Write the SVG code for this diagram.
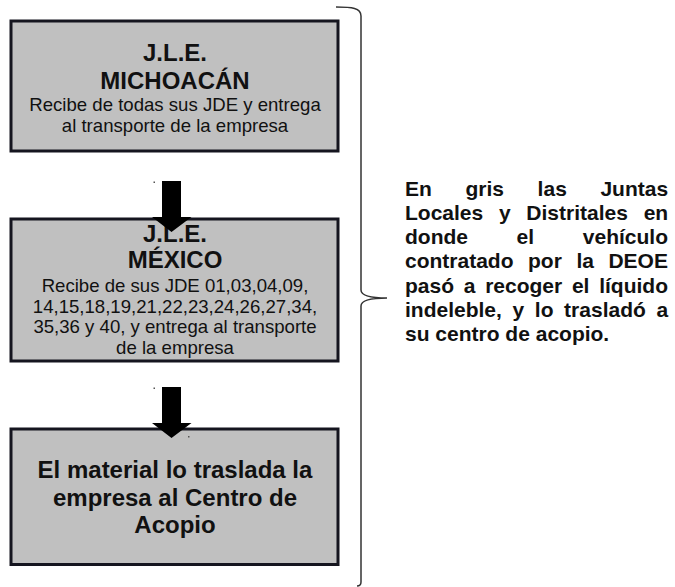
<svg xmlns="http://www.w3.org/2000/svg" width="675" height="587" viewBox="0 0 675 587">
<style>
.box{fill:#c0c0c0;stroke:#15151f;stroke-width:3}
.t{font-family:"Liberation Sans",Arial,sans-serif;fill:#111;text-anchor:middle}
.b{font-weight:bold;font-size:24px}
.r{font-size:18.6px}
.note{font-family:"Liberation Sans",Arial,sans-serif;font-weight:bold;font-size:21px;fill:#111}
.arrow{fill:#000}
.dot{fill:#555}
</style>
<rect width="675" height="587" fill="#fff"/>
<g id="node-michoacan">
<rect class="box" x="11" y="21" width="327" height="130"/>
<text class="t b" x="175" y="61">J.L.E.</text>
<text class="t b" x="175" y="89">MICHOACÁN</text>
<text class="t r" x="175" y="111">Recibe de todas sus JDE y entrega</text>
<text class="t r" x="175" y="132">al transporte de la empresa</text>
</g>
<g id="node-mexico">
<rect class="box" x="11" y="219" width="327" height="142"/>
<text class="t b" x="175" y="242">J.L.E.</text>
<text class="t b" x="175" y="268">MÉXICO</text>
<text class="t r" x="175" y="292">Recibe de sus JDE 01,03,04,09,</text>
<text class="t r" x="175" y="313">14,15,18,19,21,22,23,24,26,27,34,</text>
<text class="t r" x="175" y="333">35,36 y 40, y entrega al transporte</text>
<text class="t r" x="175" y="354">de la empresa</text>
</g>
<g id="node-acopio">
<rect class="box" x="11" y="429" width="327" height="135.5"/>
<text class="t b" x="175" y="478">El material lo traslada la</text>
<text class="t b" x="175" y="506">empresa al Centro de</text>
<text class="t b" x="175" y="533">Acopio</text>
</g>
<g id="connectors">
<polygon class="arrow" points="162,181 181,181 181,217 191.5,217 171.5,232 152,217 162,217"/>
<polygon class="arrow" points="162,387 181,387 181,423 191.5,423 171.5,438 152,423 162,423"/>
<rect class="dot" x="153.5" y="181.5" width="1.5" height="1.5"/>
<rect class="dot" x="153.5" y="387.5" width="1.5" height="1.5"/>
<rect class="dot" x="188" y="436" width="1.5" height="1.5"/>
</g>
<g id="brace">
<path d="M336,7 C352,7 361,8 361,16 L361,290 C361,296 372,298 387,298 C372,298 361,300 361,306 L361,582 C361,585 360,586 357,586" fill="none" stroke="#333" stroke-width="1.5"/>
</g>
<g id="note">
<text class="note" x="405" y="196" word-spacing="27.8">En gris las Juntas</text>
<text class="note" x="405" y="220" word-spacing="9.9">Locales y Distritales en</text>
<text class="note" x="405" y="244" word-spacing="42.8">donde el vehículo</text>
<text class="note" x="405" y="268" word-spacing="8.7">contratado por la DEOE</text>
<text class="note" x="405" y="293" word-spacing="3.9">pasó a recoger el líquido</text>
<text class="note" x="405" y="317" word-spacing="4.8">indeleble, y lo trasladó a</text>
<text class="note" x="405" y="341">su centro de acopio.</text>
</g>
</svg>
